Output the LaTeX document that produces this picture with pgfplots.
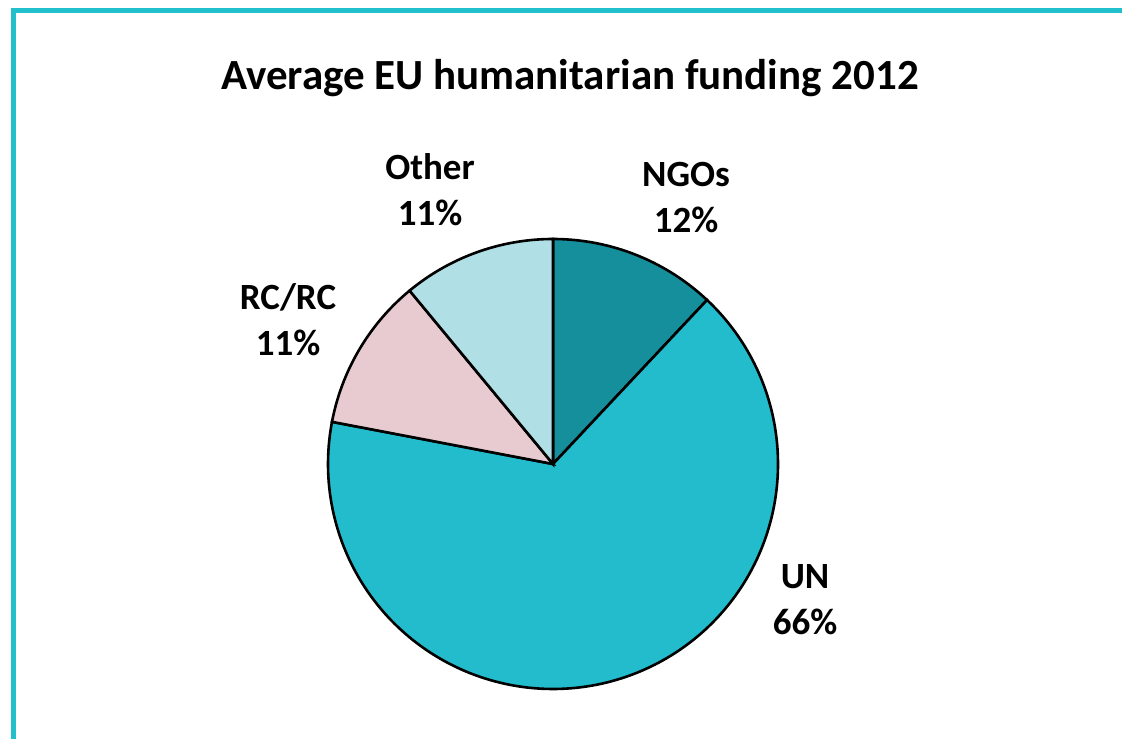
\documentclass[border=0pt]{standalone}
\usepackage{pgfplots}
\pgfplotsset{compat=1.18}
\usepackage{fontspec}
\setmainfont{Carlito}
\definecolor{frame}{HTML}{22BFCC}
\definecolor{ngo}{HTML}{168F9C}
\definecolor{un}{HTML}{22BCCD}
\definecolor{rcrc}{HTML}{E8CBD0}
\definecolor{other}{HTML}{B0DFE5}
% shares in percent, clockwise from 12 o'clock
\def\sNGO{12}\def\sUN{66}\def\sRC{11}\def\sOther{11}
\def\cx{553}\def\cy{275}\def\R{225}
\begin{document}
\begin{tikzpicture}
\pgfmathsetmacro\aA{90}
\pgfmathsetmacro\aB{90-3.6*\sNGO}
\pgfmathsetmacro\aC{\aB-3.6*\sUN}
\pgfmathsetmacro\aD{\aC-3.6*\sRC}
\pgfmathsetmacro\aE{\aD-3.6*\sOther}
\begin{axis}[
  width=561pt, height=369.5pt, scale only axis,
  xmin=0, xmax=1122, ymin=0, ymax=739,
  hide axis, clip=false,
]
\draw[frame, line width=2.5pt] (axis cs:13,0) -- (axis cs:13,728.5) -- (axis cs:1122,728.5);
\addplot[fill=ngo, draw=black, line width=1.3pt, domain=\aA:\aB, samples=80, variable=\t]
  ({\cx+\R*cos(\t)},{\cy+\R*sin(\t)}) -- (axis cs:\cx,\cy) -- cycle;
\addplot[fill=un, draw=black, line width=1.3pt, domain=\aB:\aC, samples=200, variable=\t]
  ({\cx+\R*cos(\t)},{\cy+\R*sin(\t)}) -- (axis cs:\cx,\cy) -- cycle;
\addplot[fill=rcrc, draw=black, line width=1.3pt, domain=\aC:\aD, samples=80, variable=\t]
  ({\cx+\R*cos(\t)},{\cy+\R*sin(\t)}) -- (axis cs:\cx,\cy) -- cycle;
\addplot[fill=other, draw=black, line width=1.3pt, domain=\aD:\aE, samples=80, variable=\t]
  ({\cx+\R*cos(\t)},{\cy+\R*sin(\t)}) -- (axis cs:\cx,\cy) -- cycle;
\node[font=\fontsize{21.5}{26}\selectfont\bfseries] at (axis cs:570,661) {Average EU humanitarian funding 2012};
\node[align=center, font=\fontsize{18.5}{23}\selectfont\bfseries] at (axis cs:686,541) {NGOs\\12\%};
\node[align=center, font=\fontsize{18.5}{23}\selectfont\bfseries] at (axis cs:805,139) {UN\\66\%};
\node[align=center, font=\fontsize{18.5}{23}\selectfont\bfseries] at (axis cs:288,419) {RC/RC\\11\%};
\node[align=center, font=\fontsize{18.5}{23}\selectfont\bfseries] at (axis cs:430,549) {Other\\11\%};
\end{axis}
\pgfresetboundingbox
\path (current axis.south west) rectangle (current axis.north east);
\end{tikzpicture}
\end{document}
